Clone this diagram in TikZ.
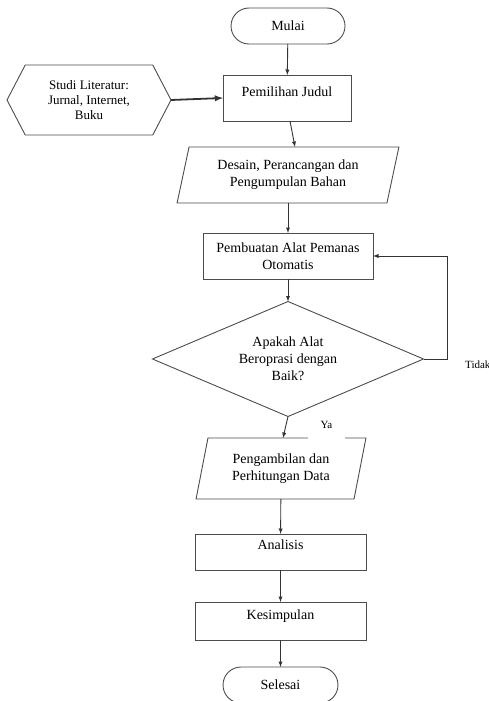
\documentclass[tikz,border=0pt]{standalone}
\usepackage{fontspec}
\setmainfont{Liberation Serif}
\usetikzlibrary{shapes.geometric, shapes.misc, shapes.symbols, arrows}
\tikzstyle{base} = [draw=black!70, line width=0.9pt, outer sep=0pt, inner sep=0pt, align=center, font=\fontsize{14}{17}\selectfont]
\tikzstyle{startstop} = [base, rounded rectangle, minimum width=114pt, minimum height=36pt]
\tikzstyle{process} = [base, rectangle, minimum height=46pt]
\tikzstyle{io} = [base, trapezium, trapezium stretches=true, trapezium left angle=74, trapezium right angle=106]
\tikzstyle{decision} = [base, diamond, aspect=2.36, minimum width=271pt, minimum height=115pt]
\tikzstyle{source} = [base, signal, signal to=west and east, signal pointer angle=125, minimum width=164pt, minimum height=70pt, font=\fontsize{13}{15}\selectfont]
\tikzstyle{arrow} = [draw=black!80, line width=0.9pt, ->, >=latex]
\tikzstyle{small} = [inner sep=0pt, font=\fontsize{11}{13}\selectfont]

\begin{document}
\begin{tikzpicture}[x=1pt, y=-1pt]
\useasboundingbox (0,0) rectangle (488,701);
\node (mulai) [startstop] at (288,26) {Mulai};
\node (judul) [process, minimum width=128pt, text depth=12pt] at (287,98) {Pemilihan Judul};
\node (studi) [source] at (89,100) {Studi Literatur:\\ Jurnal, Internet,\\ Buku};
\node (desain) [io, minimum width=222pt, minimum height=56pt] at (288,175) {Desain, Perancangan dan\\ Pengumpulan Bahan};
\node (buat) [process, minimum width=170pt] at (288,256) {Pembuatan Alat Pemanas\\ Otomatis};
\node (cek) [decision] at (288,359) {Apakah Alat\\ Beroprasi dengan\\ Baik?};
\node (ambil) [io, minimum width=170pt, minimum height=61pt, trapezium left angle=75, trapezium right angle=105] at (281,468.5) {Pengambilan dan\\ Perhitungan Data};
\node (analisis) [process, minimum width=171pt, minimum height=36pt, text depth=14pt] at (280.5,552) {Analisis};
\node (simpul) [process, minimum width=171pt, minimum height=38pt, text depth=12pt] at (280.5,621) {Kesimpulan};
\node (selesai) [startstop, minimum width=115pt] at (280.5,685) {Selesai};
\node (tidak) [small, anchor=west] at (465,365) {Tidak};
\node (ya) [small, fill=white, minimum width=37pt, minimum height=28pt] at (326.5,424.5) {Ya};

\draw [arrow] (mulai) -- (judul);
\draw [arrow, line width=1.8pt] (studi.east) -- (judul.west);
\draw [arrow] ([xshift=3pt]judul.south) -- ([xshift=7pt]desain.north);
\draw [arrow] (desain) -- (buat);
\draw [arrow] (buat) -- (cek);
\draw [arrow] (cek.east) -- ++(24,0) |- (buat.east);
\draw [arrow] (cek.south) -- ([xshift=2pt]ambil.north);
\draw [arrow] (ambil) -- (analisis);
\draw [arrow] (analisis) -- (simpul);
\draw [arrow] (simpul) -- (selesai);
\end{tikzpicture}
\end{document}
